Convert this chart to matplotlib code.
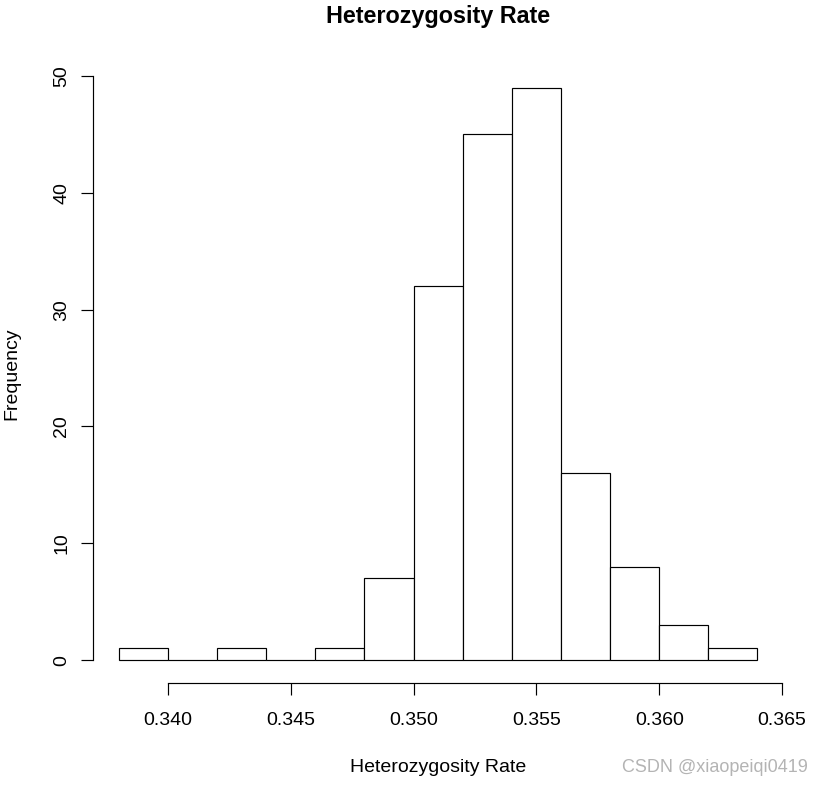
import numpy as np
import matplotlib
matplotlib.use("Agg")
from matplotlib import pyplot as plt

plt.rcParams['font.family'] = ['Liberation Sans', 'DejaVu Sans']

# histogram bins (left edges, width 0.002) and counts
bin_edges = [0.338, 0.340, 0.342, 0.344, 0.346, 0.348, 0.350,
             0.352, 0.354, 0.356, 0.358, 0.360, 0.362, 0.364]
counts = [1, 0, 1, 0, 1, 7, 32, 45, 49, 16, 8, 3, 1]
x_ticks = [0.340, 0.345, 0.350, 0.355, 0.360, 0.365]
x_ticklabels = ['0.340', '0.345', '0.350', '0.355', '0.360', '0.365']
y_ticks = [0, 10, 20, 30, 40, 50]

W, H = 825, 786
fig = plt.figure(figsize=(W / 100, H / 100), dpi=100)
ax = fig.add_axes([93.3 / W, 1 - 683 / H, (783 - 93.3) / W, (683 - 64.8) / H])

edges = np.array(bin_edges)
ax.bar(edges[:-1], counts, width=np.diff(edges), align='edge',
       facecolor='white', edgecolor='black', linewidth=0.85)

# R-style padding of 4% on both axes
ax.set_xlim(0.33696, 0.36504)
ax.set_ylim(-1.96, 50.96)

for s in ['top', 'right']:
    ax.spines[s].set_visible(False)
ax.spines['bottom'].set_bounds(0.340, 0.365)
ax.spines['left'].set_bounds(0, 50)
for s in ['bottom', 'left']:
    ax.spines[s].set_linewidth(0.85)

ax.set_xticks(x_ticks)
ax.set_xticklabels(x_ticklabels)
ax.set_yticks(y_ticks)
ax.tick_params(axis='both', length=8.6, width=0.85, labelsize=14)
ax.tick_params(axis='x', pad=12)
ax.tick_params(axis='y', pad=8)
for lab in ax.get_yticklabels():
    lab.set_rotation(90)
    lab.set_va('center')

cx = (93.3 + 783) / 2 / W
fig.text(cx, 1 - 16 / H, 'Heterozygosity Rate', ha='center', va='center',
         fontsize=16.8, fontweight='bold')
fig.text(cx, 1 - 768 / H, 'Heterozygosity Rate', ha='center', va='center',
         fontsize=14)
fig.text(12 / W, 1 - 374 / H, 'Frequency', ha='center', va='center',
         fontsize=14, rotation=90)
fig.text(808 / W, 1 - 767 / H, 'CSDN @xiaopeiqi0419', ha='right', va='center',
         fontsize=13, color='#b4b4b4')

fig.savefig('out.png', dpi=100)
